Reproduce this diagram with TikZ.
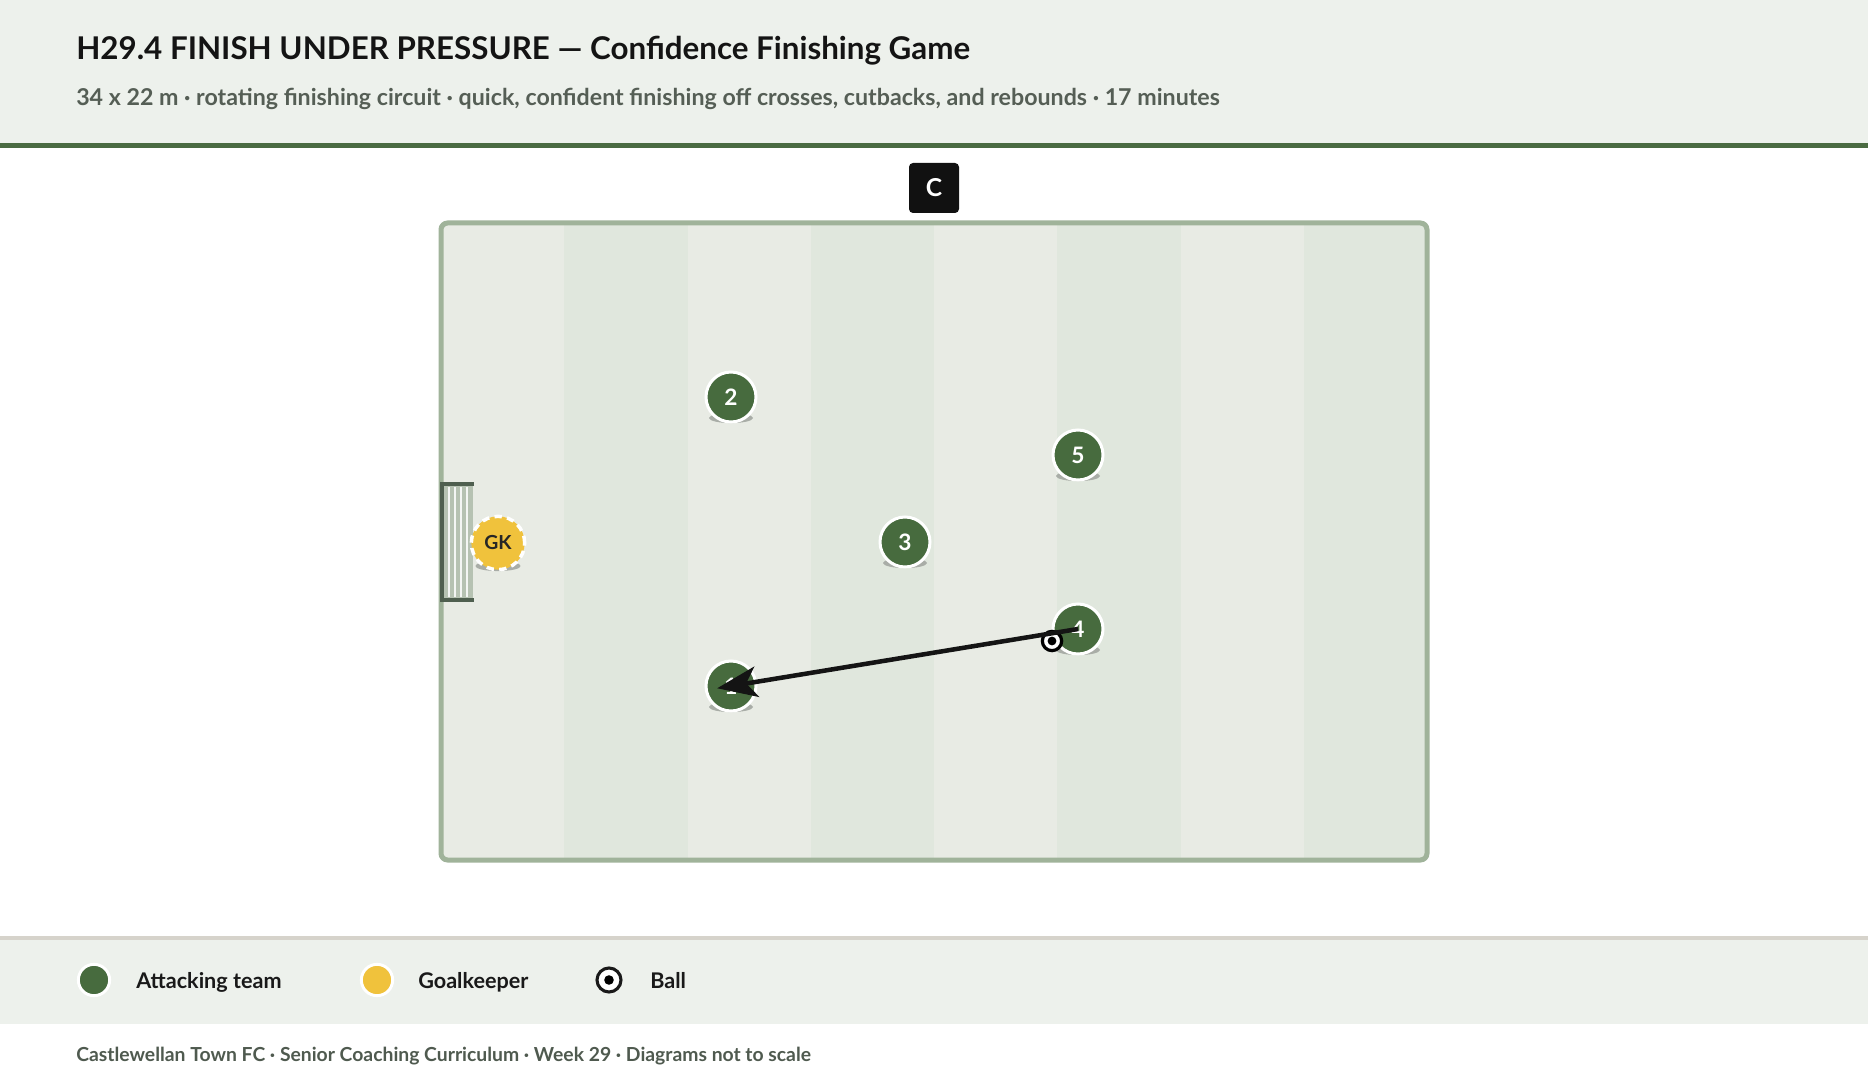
\documentclass[tikz,border=0pt]{standalone}
\usepackage{fontspec}
\setmainfont{Lato}
\usetikzlibrary{arrows.meta,calc}
\definecolor{headerbg}{HTML}{EDF1EC}
\definecolor{headerline}{HTML}{4A6B42}
\definecolor{pitchborder}{HTML}{A0B39A}
\definecolor{stripelight}{HTML}{E8EBE4}
\definecolor{stripedark}{HTML}{E0E7DD}
\definecolor{playergreen}{HTML}{476B3E}
\definecolor{gkyellow}{HTML}{F0C23C}
\definecolor{postcol}{HTML}{4F5F4F}
\definecolor{netcol}{HTML}{B6C2B2}
\definecolor{legendline}{HTML}{D6D3CB}
\definecolor{subtext}{HTML}{555E55}
\definecolor{foottext}{HTML}{4F5A4F}
\definecolor{shadowcol}{HTML}{A9ADA7}
\definecolor{coachbox}{HTML}{111111}
\begin{document}
\begin{tikzpicture}[x=0.75pt,y=-0.75pt,
  player/.style={circle,fill=playergreen,draw=white,line width=2.25pt,minimum size=37.5pt,inner sep=0pt,text=white,font=\bfseries\fontsize{17pt}{19pt}\selectfont},
  keeper/.style={circle,fill=gkyellow,draw=white,line width=2.6pt,dash pattern=on 5.5pt off 4pt,minimum size=40pt,inner sep=0pt,text=black!85,font=\bfseries\fontsize{14.5pt}{16pt}\selectfont},
  ballnode/.style={circle,fill=white,draw=black,line width=2.4pt,minimum size=14.5pt,inner sep=0pt},
  legball/.style={circle,fill=white,draw=black!90,line width=2.3pt,minimum size=18pt,inner sep=0pt},
  legdot/.style={circle,fill=#1,draw=white,line width=2.2pt,minimum size=23.5pt,inner sep=0pt},
  coachstyle/.style={rectangle,rounded corners=3pt,fill=coachbox,minimum size=37.5pt,inner sep=0pt,text=white,font=\bfseries\fontsize{18.5pt}{20pt}\selectfont},
  pass/.style={draw=black!92,line width=3.4pt,-{Stealth[length=30pt,width=23pt,inset=8pt]}},
  legtext/.style={anchor=base west,inner sep=0pt,text=black!90,font=\bfseries\fontsize{16.2pt}{19pt}\selectfont},
]
\useasboundingbox (0,0) rectangle (1868,1080);
\fill[white] (0,0) rectangle (1868,1080);
% header
\fill[headerbg] (0,0) rectangle (1868,143);
\fill[headerline] (0,143) rectangle (1868,148);
\node[anchor=base west,inner sep=0pt,text=black!92,font=\bfseries\fontsize{23.5pt}{27pt}\selectfont] (title) at (76,60) {H29.4 FINISH UNDER PRESSURE — Confidence Finishing Game};
\node[anchor=base west,inner sep=0pt,text=subtext,font=\bfseries\fontsize{17.4pt}{20pt}\selectfont] (subtitle) at (76,105.5) {34 x 22 m · rotating finishing circuit · quick, confident finishing off crosses, cutbacks, and rebounds · 17 minutes};
% pitch
\begin{scope}
\clip[rounded corners=5pt] (441,223) rectangle (1427,860);
\foreach \i in {0,...,7}{
  \pgfmathsetmacro\xa{441+123.25*\i}
  \pgfmathsetmacro\xb{441+123.25*(\i+1)}
  \ifodd\i
    \fill[stripedark] (\xa,223) rectangle (\xb,860);
  \else
    \fill[stripelight] (\xa,223) rectangle (\xb,860);
  \fi
}
\end{scope}
\draw[pitchborder,line width=3.75pt,rounded corners=5pt] (441,223) rectangle (1427,860);
% goal
\fill[netcol] (443,486) rectangle (473,598);
\foreach \gx in {449,455,461,467}{
  \draw[white!85!netcol,line width=0.9pt] (\gx,487) -- (\gx,597);
}
\draw[postcol,line width=3pt,line cap=butt] (474,484) -- (442,484) -- (442,600) -- (474,600);
% coach
\node[coachstyle] (coach) at (934,188) {C};
% shadows
\foreach \sx/\sy in {731/397,1078/455,905/542,1078/629,731/686}{
  \fill[shadowcol] (\sx,\sy+21) ellipse [x radius=16.5pt,y radius=3.8pt];
}
\fill[shadowcol] (498,566) ellipse [x radius=17pt,y radius=3.8pt];
% players
\node[keeper] (gk) at (498,543) {GK};
\node[player] (p2) at (731,397) {2};
\node[player] (p5) at (1078,455) {5};
\node[player] (p3) at (905,542) {3};
\node[player] (p4) at (1078,629) {4};
\node[player] (p1) at (731,686) {1};
% ball
\node[ballnode] (ball) at (1052,641) {};
\fill[black] (ball.center) circle (3.3pt);
% pass
\draw[pass,shorten >=-10.5pt] (p4.center) -- (p1.center);
% legend
\fill[headerbg] (0,938) rectangle (1868,1024);
\fill[legendline] (0,936) rectangle (1868,940);
\node[legdot=playergreen] (lg1) at (94,980) {};
\node[legtext] (lt1) at (136,988) {Attacking team};
\node[legdot=gkyellow] (lg2) at (377,980) {};
\node[legtext] (lt2) at (418,988) {Goalkeeper};
\node[legball] (lg3) at (609,980) {};
\fill[black] (lg3.center) circle (3.6pt);
\node[legtext] (lt3) at (650,988) {Ball};
% footer
\node[anchor=base west,inner sep=0pt,text=foottext,font=\bfseries\fontsize{14.5pt}{17pt}\selectfont] (footer) at (76,1061) {Castlewellan Town FC · Senior Coaching Curriculum · Week 29 · Diagrams not to scale};
\end{tikzpicture}
\end{document}
